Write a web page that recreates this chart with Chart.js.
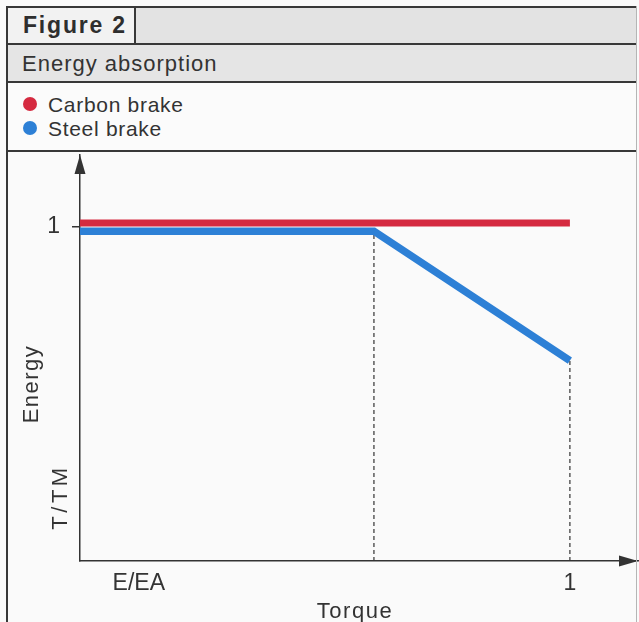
<!DOCTYPE html>
<html>
<head>
<meta charset="utf-8">
<title>Figure 2 - Energy absorption</title>
<script src="https://cdn.jsdelivr.net/npm/chart.js@4"></script>
<style>
  html, body { margin: 0; padding: 0; background: #fafafa; }
  body { width: 639px; height: 622px; overflow: hidden; position: relative;
         font-family: "Liberation Sans", Arial, Helvetica, sans-serif; color: #333; }
  #chart { position: absolute; left: 0; top: 0; }
  .row { position: absolute; left: 7px; width: 630px; box-sizing: border-box; border-bottom: 2px solid #383838; }
  #row1 { top: 6px; height: 39px; border-top: 2px solid #383838; background: #e3e3e3; }
  #row2 { top: 45px; height: 38px; background: #e5e5e5; }
  #row3 { top: 83px; height: 69px; background: #fbfbfb; }
  #figCell { position: absolute; left: 0; top: 0; width: 129px; height: 100%; box-sizing: border-box;
             background: #f2f2f2; border-right: 2px solid #383838; }
  #leftRule { position: absolute; left: 6px; top: 6px; width: 2px; height: 616px; background: #383838; }
  #rightRule { position: absolute; left: 636px; top: 6px; width: 1px; height: 616px; background: #b5b5b5; }
  .txt { position: absolute; white-space: nowrap; line-height: 1; }
  #figTitle { left: 16px; top: 6px; font-size: 23px; font-weight: bold; letter-spacing: 1.8px; color: #2e2e2e; }
  #subTitle { left: 15px; top: 8px; font-size: 22px; letter-spacing: 1px; }
  .legendItem { position: absolute; left: 0; height: 24px; }
  .legendDot { position: absolute; left: 16px; width: 14px; height: 14px; border-radius: 50%; }
  .legendText { position: absolute; left: 41px; font-size: 21px; letter-spacing: 0.7px; line-height: 1; white-space: nowrap; }
</style>
</head>
<body>
<canvas id="chart" width="639" height="622"></canvas>
<div id="row1" class="row"><div id="figCell"><div id="figTitle" class="txt">Figure 2</div></div></div>
<div id="row2" class="row"><div id="subTitle" class="txt">Energy absorption</div></div>
<div id="row3" class="row"><div id="legend"></div></div>
<div id="leftRule"></div>
<div id="rightRule"></div>
<script>
// series data (Energy vs Torque, both normalised to 1)
const torque = [0, 0.6, 1];
const carbonEnergy = [1.012, 1.012, 1.012];
const steelEnergy = [0.988, 0.988, 0.6];

const seriesNames = ["Carbon brake", "Steel brake"];
const seriesColors = ["#d52a40", "#2d80d6"];

const xTickValues = [0.12, 1];
const xTickLabels = ["E/EA", "1"];
const yTickValues = [1];
const yTickLabels = ["1"];

const FONT = '"Liberation Sans", Arial, Helvetica, sans-serif';
const INK = "#333";

// html legend, built from the series arrays
const legendEl = document.getElementById("legend");
seriesNames.forEach((name, i) => {
  const item = document.createElement("div");
  item.className = "legendItem";
  item.style.top = (11 + i * 24) + "px";
  item.innerHTML =
    '<div class="legendDot" style="top:3px;background:' + seriesColors[i] + '"></div>' +
    '<div class="legendText" style="top:0px">' + name + "</div>";
  legendEl.appendChild(item);
});

function toPoints(xs, ys) {
  return xs.map((x, i) => ({ x: x, y: ys[i] }));
}

// dashed drop lines from the steel line corners down to the torque axis
function dropLine(i) {
  return {
    data: [{ x: torque[i], y: 0 }, { x: torque[i], y: steelEnergy[i] }],
    borderColor: INK,
    borderWidth: 1.2,
    borderDash: [4, 3],
    pointRadius: 0,
  };
}

// axis arrows and the free-standing axis captions
const axisDecor = {
  id: "axisDecor",
  afterDraw(chart) {
    const { ctx, chartArea } = chart;
    const ax = chartArea.left;
    const ay = chartArea.bottom;
    ctx.save();
    ctx.fillStyle = INK;

    // y arrow
    ctx.beginPath();
    ctx.moveTo(ax, chartArea.top);
    ctx.lineTo(ax - 5.5, chartArea.top + 19);
    ctx.lineTo(ax + 5.5, chartArea.top + 19);
    ctx.closePath();
    ctx.fill();

    // x arrow
    ctx.beginPath();
    ctx.moveTo(chartArea.right, ay);
    ctx.lineTo(chartArea.right - 19, ay - 5.5);
    ctx.lineTo(chartArea.right - 19, ay + 5.5);
    ctx.closePath();
    ctx.fill();

    ctx.font = "22px " + FONT;
    ctx.textAlign = "center";
    ctx.textBaseline = "middle";

    ctx.save();
    ctx.translate(ax - 48, ay - 177);
    ctx.rotate(-Math.PI / 2);
    ctx.letterSpacing = "1.5px";
    ctx.fillText("Energy", 0, 0);
    ctx.restore();

    ctx.save();
    ctx.translate(ax - 19, ay - 64);
    ctx.rotate(-Math.PI / 2);
    ctx.letterSpacing = "3.5px";
    ctx.fillText("T/TM", 0, 0);
    ctx.restore();

    ctx.letterSpacing = "1.5px";
    ctx.textBaseline = "alphabetic";
    ctx.fillText("Torque", (chartArea.left + chartArea.right) / 2 - 4, ay + 57);
    ctx.restore();
  },
};

new Chart(document.getElementById("chart"), {
  type: "line",
  data: {
    datasets: [
      {
        label: seriesNames[0],
        data: toPoints(torque, carbonEnergy),
        borderColor: seriesColors[0],
        borderWidth: 7,
        pointRadius: 0,
        borderCapStyle: "butt",
      },
      {
        label: seriesNames[1],
        data: toPoints(torque, steelEnergy),
        borderColor: seriesColors[1],
        borderWidth: 7.5,
        pointRadius: 0,
        borderJoinStyle: "miter",
        borderCapStyle: "butt",
      },
      dropLine(1),
      dropLine(2),
    ],
  },
  options: {
    responsive: false,
    animation: false,
    events: [],
    layout: { padding: { top: 155, left: 40, right: 1, bottom: 21 } },
    plugins: { legend: { display: false }, tooltip: { enabled: false } },
    elements: { line: { tension: 0 } },
    scales: {
      x: {
        type: "linear",
        min: 0,
        max: 1.139,
        afterFit: (scale) => { scale.height = 40; },
        afterBuildTicks: (scale) => { scale.ticks = xTickValues.map((v) => ({ value: v })); },
        grid: { display: false, drawTicks: false },
        border: { display: true, color: INK, width: 1.5 },
        ticks: {
          autoSkip: false,
          maxRotation: 0,
          padding: 9,
          color: INK,
          font: { family: FONT, size: 23 },
          callback: (val, i) => xTickLabels[i],
        },
      },
      y: {
        min: 0,
        max: 1.216,
        afterFit: (scale) => { scale.width = 40; },
        afterBuildTicks: (scale) => { scale.ticks = yTickValues.map((v) => ({ value: v })); },
        grid: { drawOnChartArea: false, drawTicks: true, tickLength: 8, color: INK, lineWidth: 1.5 },
        border: { display: true, color: INK, width: 1.5 },
        ticks: {
          padding: 12,
          color: INK,
          font: { family: FONT, size: 23 },
          callback: (val, i) => yTickLabels[i],
        },
      },
    },
  },
  plugins: [axisDecor],
});
</script>
</body>
</html>
